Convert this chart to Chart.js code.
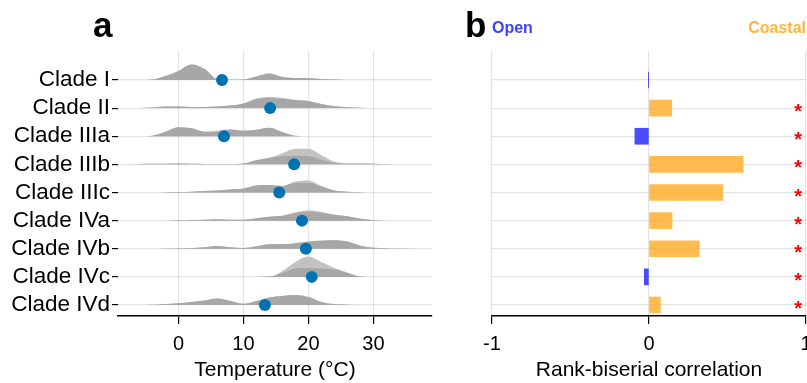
<!DOCTYPE html>
<html><head><meta charset="utf-8">
<script src="https://cdn.jsdelivr.net/npm/chart.js@4.4.1/dist/chart.umd.min.js"></script>
<style>
body{margin:0;background:#fff;}
#wrap{position:relative;width:807px;height:383px;overflow:hidden;font-family:"Liberation Sans",Arial,sans-serif;}
#ca{position:absolute;left:0;top:0;}
#cb{position:absolute;left:440px;top:0;}
.lab{position:absolute;font-weight:bold;line-height:1;white-space:nowrap;}
</style></head><body>
<div id="wrap">
<canvas id="ca" width="440" height="383"></canvas>
<canvas id="cb" width="367" height="383"></canvas>
<div class="lab" style="left:93px;top:7px;font-size:35px;color:#000">a</div>
<div class="lab" style="left:465px;top:7px;font-size:35px;color:#000">b</div>
<div class="lab" style="left:492px;top:20px;font-size:16px;color:#4040FF">Open</div>
<div class="lab" style="right:1px;top:20px;font-size:16px;color:#FFB53A">Coastal</div>
</div>
<script>
// ---------------- data ----------------
const categories = ["Clade I","Clade II","Clade IIIa","Clade IIIb","Clade IIIc","Clade IVa","Clade IVb","Clade IVc","Clade IVd"];
// temperature grid for the density ridges (°C)
const tempGrid = [-8,-6,-4,-2,0,2,4,6,8,10,12,14,16,18,20,22,24,26,28,30,32,34,36];
// ridge densities (relative height), darker layer
const densCladeI    = [0,0,0.5,4,9,15.5,11,0.8,0.3,0.5,3.5,6.5,3,2,1.8,1,0.4,0.1,0,0,0,0,0];
const densCladeII   = [0,0,0.5,1.5,1.5,1,1,1.5,2.5,4.5,9,10,9.5,8,7,4,1.8,0.8,0.3,0,0,0,0];
const densCladeIIIa = [0,0,0.5,4.5,9,8,4.5,4.5,6.5,5.5,6.5,8.5,4,0.5,0,0,0,0,0,0,0,0,0];
const densCladeIIIb = [0,0.3,0.5,0.6,0.8,0.5,0.4,0.3,0.3,0.8,4,6.5,8,8.5,8,4.5,1.5,0.8,0.8,0.6,0.3,0,0];
const densCladeIIIc = [0,0,0,0.3,0.5,0.8,1.5,2,3,4,7,7.5,6.5,9.5,9.5,6,2,0.7,0.2,0,0,0,0];
const densCladeIVa  = [0,0,0,0,0.3,0.6,1,1.5,1,1,2.5,4,5,7.5,9,7.5,6,4.5,2,0.5,0,0,0];
const densCladeIVb  = [0,0,0,0.2,0.5,0.8,1.5,2.8,1.5,0.7,2.5,4.5,4.5,5.5,7,7.8,8.3,7.2,3,1,0.5,0.2,0];
const densCladeIVc  = [0,0,0,0,0,0,0,0,0,0,0,0.3,4,8.5,9,8.5,7.5,4,0.5,0,0,0,0];
const densCladeIVd  = [0,0,0.3,1,1.7,3,4.5,6.5,4,1.2,4,7.5,9,10,8,3,0.8,0.3,0,0,0,0,0];
// ridge densities (relative height), lighter layer
const densLightI    = [0,0,0.5,4,9,15.5,11,0.8,0.3,0.5,3.5,6.5,3,2,1.8,1,0.4,0.1,0,0,0,0,0];
const densLightII   = [0,0,0.5,1.5,1.5,1,1,1.5,2.5,4.5,9.5,11,10,8,7,4,1.8,0.8,0.3,0,0,0,0];
const densLightIIIa = [0,0,0.5,4.5,9,8,4.5,5.5,7,5.5,6.5,8.5,4,0.5,0,0,0,0,0,0,0,0,0];
const densLightIIIb = [0,0.3,0.5,0.6,0.8,0.5,0.4,0.3,0.3,0.8,4,6.5,11,15.5,15.5,9,2.5,0.8,0.8,0.6,0.3,0,0];
const densLightIIIc = [0,0,0,0.3,0.5,0.8,1.5,2,3,4,7,7.5,6.5,11,12,6.5,2,0.7,0.2,0,0,0,0];
const densLightIVa  = [0,0,0,0,0.3,0.6,1,1.5,1,1,2.5,4,5,8.5,10.5,9,6,4.5,2,0.5,0,0,0];
const densLightIVb  = [0,0,0,0.2,0.5,0.8,1.5,2.8,1.5,0.7,2.5,4.5,4.5,5.5,7.5,8.5,8.8,7.2,3,1,0.5,0.2,0];
const densLightIVc  = [0,0,0,0,0,0,0,0,0,0,0,0.3,6,15,20.5,15,9,4.5,0.5,0,0,0,0];
const densLightIVd  = [0,0,0.3,1,1.7,3,4.5,6.5,4,1.2,4,7.5,9,10,8,3,0.8,0.3,0,0,0,0,0];
// mean temperature per clade (°C)
const meanTemp = [6.7,14.1,7.0,17.8,15.5,19.0,19.6,20.5,13.3];
// rank-biserial correlation (open < 0 < coastal)
const rankBiserial = [-0.002,0.145,-0.09,0.60,0.47,0.147,0.32,-0.03,0.073];
const significant = [false,true,true,true,true,true,true,true,true];
const tempTicks = [0,10,20,30];
const corrTicks = [-1,0,1];

const darkDens = [densCladeI,densCladeII,densCladeIIIa,densCladeIIIb,densCladeIIIc,densCladeIVa,densCladeIVb,densCladeIVc,densCladeIVd];
const lightDens = [densLightI,densLightII,densLightIIIa,densLightIIIb,densLightIIIc,densLightIVa,densLightIVb,densLightIVc,densLightIVd];

// ---------------- styling ----------------
const FONT = '"Liberation Sans", Arial, sans-serif';
Chart.defaults.font.family = FONT;
Chart.defaults.color = '#000';
const GRID = 'rgba(0,0,0,0.11)';
const RIDGE_SCALE = 1/28.125;
const N = categories.length;
const rowVal = i => N - 1 - i;
const Y_MIN = -0.391, Y_MAX = 9.031;

const dsA = [];
dsA.push({label:'mean', data: meanTemp.map((m,i)=>({x:m,y:rowVal(i)})), showLine:false,
  pointRadius:6, pointHoverRadius:6, pointBackgroundColor:'#0072B2', pointBorderWidth:0, borderWidth:0});
darkDens.forEach((d,i)=>dsA.push({label:'dark'+i, data: tempGrid.map((t,j)=>({x:t,y:rowVal(i)+d[j]*RIDGE_SCALE})),
  fill:{value:rowVal(i)}, backgroundColor:'#a7a7a7', borderWidth:0, pointRadius:0, cubicInterpolationMode:'monotone'}));
lightDens.forEach((d,i)=>dsA.push({label:'light'+i, data: tempGrid.map((t,j)=>({x:t,y:rowVal(i)+d[j]*RIDGE_SCALE})),
  fill:{value:rowVal(i)}, backgroundColor:'#c2c2c2', borderWidth:0, pointRadius:0, cubicInterpolationMode:'monotone'}));

const xFit = h => s => { s.height = h; s.paddingLeft = 0; s.paddingRight = 0; };
const yFit = w => s => { s.width = w; s.paddingTop = 0; s.paddingBottom = 0; };

new Chart(document.getElementById('ca'), {
  type:'line',
  data:{datasets:dsA},
  options:{
    responsive:false, animation:false, devicePixelRatio:1,
    layout:{padding:{top:51,right:8,left:0,bottom:0}},
    plugins:{legend:{display:false}, tooltip:{enabled:false}},
    scales:{
      x:{type:'linear', min:-9.3, max:39,
        afterBuildTicks: s => { s.ticks = tempTicks.map(v=>({value:v})); },
        afterFit: xFit(67),
        grid:{color:GRID, tickColor:'#000', tickLength:8, lineWidth:1.2},
        border:{display:true, color:'#000', width:1.5},
        ticks:{font:{size:20}, color:'#000', padding:8, maxRotation:0},
        title:{display:true, text:'Temperature (°C)', font:{size:21}, color:'#000', padding:{top:0,bottom:0}}},
      y:{type:'linear', min:Y_MIN, max:Y_MAX,
        afterBuildTicks: s => { s.ticks = categories.map((c,i)=>({value:rowVal(i)})); },
        afterFit: yFit(118),
        grid:{color:GRID, tickColor:'#000', tickLength:6, lineWidth:1.2},
        border:{display:false},
        ticks:{font:{size:22.5}, color:'#000', padding:2, callback: v => categories[N-1-v]}}
    }
  }
});

const STAR_X = 0.95;
const starPlugin = {
  id:'stars',
  afterDatasetsDraw(chart){
    const ctx = chart.ctx, xs = chart.scales.x, ys = chart.scales.y;
    ctx.save();
    ctx.fillStyle = '#ff0000';
    ctx.font = 'bold 20px ' + FONT;
    ctx.textAlign = 'center';
    ctx.textBaseline = 'alphabetic';
    significant.forEach((s,i)=>{ if(s) ctx.fillText('*', xs.getPixelForValue(STAR_X), ys.getPixelForValue(rowVal(i)) + 10); });
    ctx.restore();
  }
};

new Chart(document.getElementById('cb'), {
  type:'bar',
  data:{datasets:[{label:'r', data: rankBiserial.map((v,i)=>({x:v,y:rowVal(i)})),
    backgroundColor: rankBiserial.map(v => v < 0 ? 'rgba(50,50,255,0.88)' : 'rgba(255,172,40,0.82)'),
    borderWidth:0, barThickness:16}]},
  options:{
    indexAxis:'y',
    responsive:false, animation:false, devicePixelRatio:1,
    layout:{padding:{top:51,right:1,left:0,bottom:0}},
    plugins:{legend:{display:false}, tooltip:{enabled:false}},
    scales:{
      x:{type:'linear', min:-1, max:1,
        afterBuildTicks: s => { s.ticks = corrTicks.map(v=>({value:v})); },
        afterFit: xFit(67),
        grid:{color:GRID, tickColor:'#000', tickLength:8, lineWidth:1.2},
        border:{display:true, color:'#000', width:1.5},
        ticks:{font:{size:20}, color:'#000', padding:8, maxRotation:0, callback: v => String(v)},
        title:{display:true, text:'Rank-biserial correlation', font:{size:21}, color:'#000', padding:{top:0,bottom:0}}},
      y:{type:'linear', min:Y_MIN, max:Y_MAX, offset:false,
        afterBuildTicks: s => { s.ticks = categories.map((c,i)=>({value:rowVal(i)})); },
        afterFit: yFit(52),
        grid:{color:GRID, drawTicks:false, offset:false, lineWidth:1.2},
        border:{display:false},
        ticks:{display:false}}
    }
  },
  plugins:[starPlugin]
});
</script>
</body></html>
